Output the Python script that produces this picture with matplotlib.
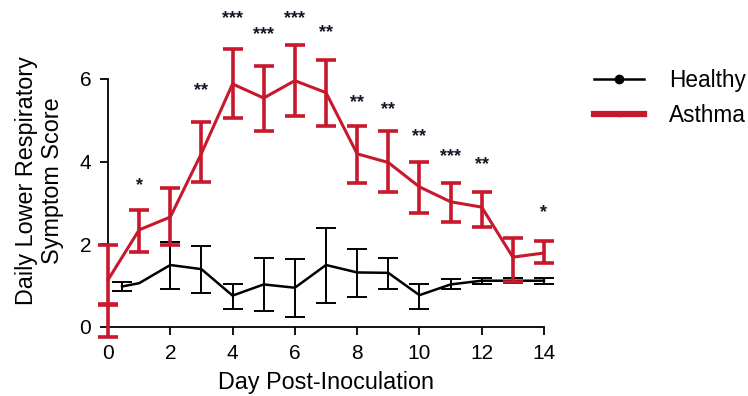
import matplotlib
matplotlib.use("Agg")
import matplotlib.pyplot as plt
from matplotlib.lines import Line2D
import numpy as np

plt.rcParams['font.family'] = ['Liberation Sans', 'DejaVu Sans']

# Healthy series
healthy_days = [0.45, 1, 2, 3, 4, 5, 6, 7, 8, 9, 10, 11, 12, 13, 14]
healthy_mean = [0.98, 1.06, 1.50, 1.40, 0.76, 1.03, 0.95, 1.50, 1.32, 1.31, 0.77, 1.03, 1.12, 1.12, 1.12]
healthy_lo = [0.88, 1.06, 0.92, 0.82, 0.44, 0.39, 0.24, 0.58, 0.73, 0.92, 0.43, 0.92, 1.05, 1.06, 1.05]
healthy_hi = [1.08, 1.06, 2.06, 1.96, 1.04, 1.67, 1.65, 2.40, 1.89, 1.67, 1.04, 1.16, 1.19, 1.18, 1.19]

# Asthma series
asthma_days = [0, 1, 2, 3, 4, 5, 6, 7, 8, 9, 10, 11, 12, 13, 14]
asthma_mean = [1.14, 2.35, 2.66, 4.20, 5.88, 5.54, 5.96, 5.67, 4.19, 3.98, 3.39, 3.03, 2.90, 1.69, 1.79]
asthma_lo = [0.53, 1.82, 1.98, 3.52, 5.05, 4.73, 5.11, 4.87, 3.48, 3.27, 2.76, 2.54, 2.42, 1.09, 1.55]
asthma_hi = [1.98, 2.83, 3.37, 4.97, 6.72, 6.32, 6.83, 6.46, 4.87, 4.73, 4.00, 3.48, 3.27, 2.15, 2.08]
# baseline asthma error bar at day 0 overlapping
asthma_base_day = [0]
asthma_base_mean = [0.15]
asthma_base_lo = [-0.25]
asthma_base_hi = [0.55]

# significance stars
sig_days = [1, 3, 4, 5, 6, 7, 8, 9, 10, 11, 12, 14]
sig_pos = [3.42, 5.72, 7.47, 7.07, 7.47, 7.12, 5.42, 5.27, 4.60, 4.12, 3.92, 2.77]
sig_labels = ['*', '**', '***', '***', '***', '**', '**', '**', '**', '***', '**', '*']

xticks = [0, 2, 4, 6, 8, 10, 12, 14]
yticks = [0, 2, 4, 6]

RED = '#C8182C'
FS_TICK = 15
FS_LAB = 16.8
FS_LEG = 16.3
W, H = 748, 396
fig = plt.figure(figsize=(W / 100, H / 100), dpi=100)
ax = fig.add_axes([108 / W, (H - 327) / H, (544 - 108) / W, (327 - 79) / H])

ax.plot(healthy_days, healthy_mean, color='black', lw=1.8, clip_on=False, zorder=3)
hx, hy, hl, hh = [], [], [], []
for d, m, lo, hi in zip(healthy_days, healthy_mean, healthy_lo, healthy_hi):
    if hi > lo:
        hx.append(d); hy.append(m); hl.append(m - lo); hh.append(hi - m)
ax.errorbar(hx, hy, yerr=[hl, hh], fmt='none', ecolor='black',
            elinewidth=1.4, capsize=7, capthick=1.4, clip_on=False, zorder=3)

am = np.array(asthma_mean)
ae = [am - np.array(asthma_lo), np.array(asthma_hi) - am]
ax.errorbar(asthma_days, asthma_mean, yerr=ae, color=RED, lw=2.2,
            elinewidth=2.6, capsize=7, capthick=2.6, clip_on=False, zorder=4)
bm = np.array(asthma_base_mean)
be = [bm - np.array(asthma_base_lo), np.array(asthma_base_hi) - bm]
ax.errorbar(asthma_base_day, asthma_base_mean, yerr=be, fmt='none', ecolor=RED,
            elinewidth=2.6, capsize=7, capthick=2.6, clip_on=False, zorder=4)

for d, p, s in zip(sig_days, sig_pos, sig_labels):
    ax.text(d, p, s, ha='center', va='center', fontsize=13, fontweight='bold',
            color='#151525', clip_on=False)

ax.set_xlim(0, 14)
ax.set_ylim(0, 6)
ax.set_xticks(xticks)
ax.set_yticks(yticks)
for sp in ['top', 'right']:
    ax.spines[sp].set_visible(False)
for sp in ['left', 'bottom']:
    ax.spines[sp].set_linewidth(1.3)
ax.tick_params(axis='both', direction='out', length=6, width=1.3, labelsize=FS_TICK, pad=6)
ax.set_xlabel('Day Post-Inoculation', fontsize=FS_LAB, labelpad=6)
ax.set_ylabel('Daily Lower Respiratory\nSymptom Score', fontsize=FS_LAB, labelpad=11,
              linespacing=1.2)
ax.yaxis.label.set_y(0.59)

handles = [Line2D([], [], color='black', lw=1.8, marker='o', markersize=6),
           Line2D([], [], color=RED, lw=4.5, marker='o', markersize=3)]
fig.legend(handles, ['Healthy', 'Asthma'], loc='upper left',
           bbox_to_anchor=(574 / W, 1 - 49 / H), frameon=False, fontsize=FS_LEG,
           handlelength=2.2, handletextpad=1.1, labelspacing=0.5)

fig.savefig('out.png', dpi=100)
